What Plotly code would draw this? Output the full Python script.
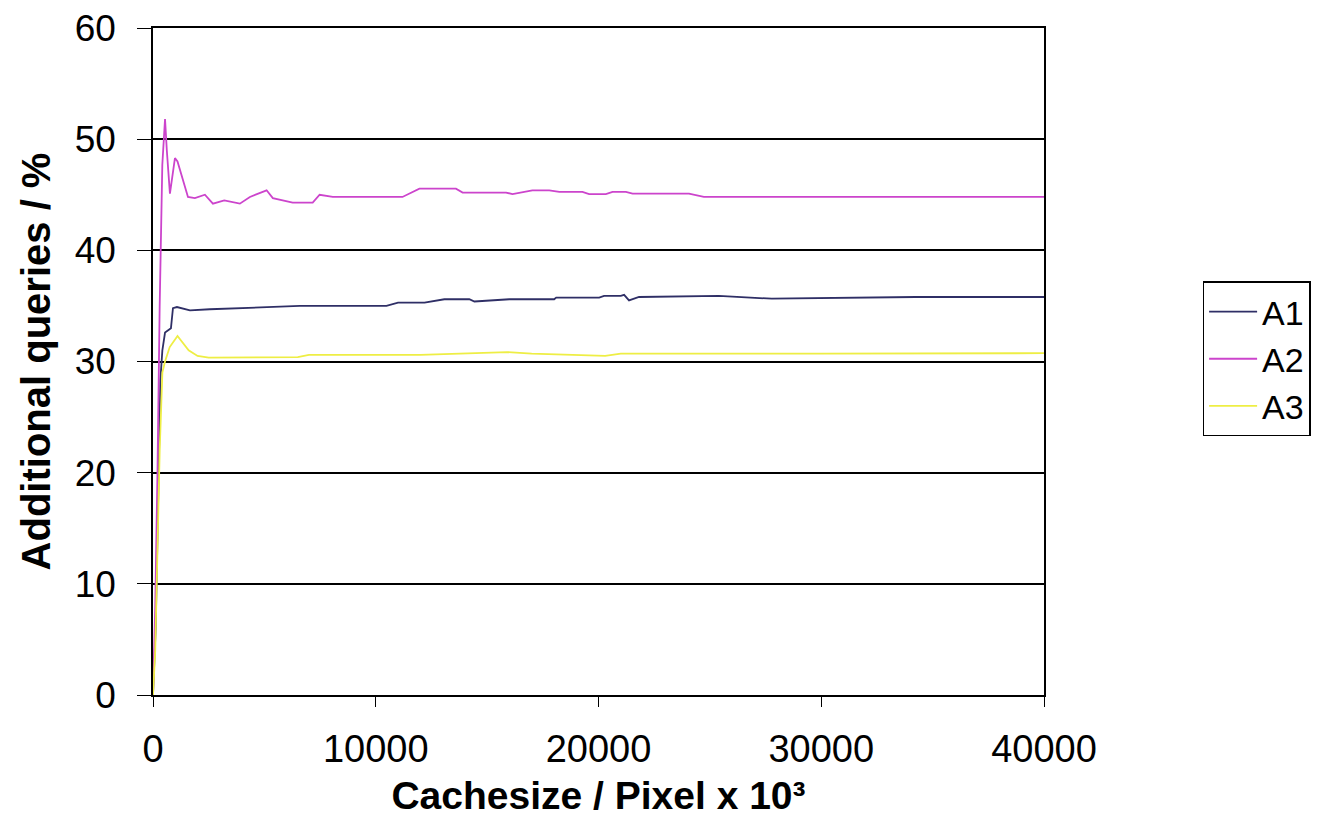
import plotly.graph_objects as go

# cache size (pixel x 10^3) and additional queries (%)
a1_x = [0, 120, 220, 330, 420, 540, 806, 896, 1075, 1660, 2550, 3900, 4800,
        6590, 10480, 11000, 12190, 13080, 14200, 14430, 16000, 18010, 18100,
        20030, 20250, 21000, 21150, 21370, 21820, 25400, 27780, 34230, 40000]
a1_y = [0, 6, 16.2, 28.3, 31.0, 32.6, 33.0, 34.8, 34.9, 34.6, 34.7, 34.8, 34.9,
        35.0, 35.0, 35.3, 35.3, 35.6, 35.6, 35.4, 35.6, 35.6, 35.75,
        35.75, 35.9, 35.9, 36.0, 35.5, 35.8, 35.9, 35.65, 35.8, 35.8]

a2_x = [0, 100, 200, 300, 418, 480, 540, 620, 760, 985, 1100, 1570, 1880,
        2330, 2690, 3200, 3900, 4350, 5100, 5380, 6270, 7170, 7480, 8070,
        11200, 11960, 13600, 13900, 15850, 16140, 17030, 17790, 18240, 19280,
        19580, 20330, 20630, 21230, 21530, 24060, 24730, 40000]
a2_y = [0, 8, 20, 35, 47.7, 50.5, 51.8, 49.0, 45.1, 48.3, 48.0, 44.8, 44.7,
        45.0, 44.2, 44.5, 44.2, 44.8, 45.4, 44.7, 44.3, 44.3, 45.0, 44.8,
        44.8, 45.55, 45.55, 45.2, 45.2, 45.05, 45.4, 45.4, 45.25, 45.25,
        45.05, 45.05, 45.25, 45.25, 45.1, 45.1, 44.8, 44.8]

a3_x = [0, 100, 200, 300, 420, 540, 750, 1100, 1600, 2000, 2500, 4000, 6500,
        7000, 12000, 15900, 17000, 20300, 21000, 30000, 40000]
a3_y = [0, 4, 13, 22, 29.0, 30.0, 31.3, 32.3, 31.0, 30.5, 30.35, 30.35, 30.4,
        30.6, 30.6, 30.85, 30.7, 30.5, 30.7, 30.7, 30.75]

series = [("A1", a1_x, a1_y, "#2f2f66"),
          ("A2", a2_x, a2_y, "#cc44cc"),
          ("A3", a3_x, a3_y, "#eeee44")]

fig = go.Figure()
for name, xs, ys, color in series:
    fig.add_trace(go.Scatter(x=xs, y=ys, mode="lines", name=name,
                             line=dict(color=color, width=1.8)))

font = "Liberation Sans, Arial, sans-serif"
# page body has an 8px margin, so the plot box is shifted back by 8px
fig.update_layout(
    width=1319, height=840,
    margin=dict(l=145, r=283, t=20, b=153, autoexpand=False),
    paper_bgcolor="white", plot_bgcolor="white",
    font=dict(family=font, size=37, color="black"),
    showlegend=True,
    legend=dict(x=1.178, y=0.62, xanchor="left", yanchor="top",
                bordercolor="black", borderwidth=1.5,
                font=dict(size=34), itemwidth=48, tracegroupgap=0),
)
fig.update_xaxes(range=[0, 40000], dtick=10000, tickformat="d",
                 showline=True, linecolor="black", linewidth=1.5, mirror=True,
                 ticks="outside", ticklen=10, tickcolor="black",
                 showgrid=False, zeroline=False, ticklabelstandoff=10,
                 automargin=False, tickfont=dict(size=38),
                 ticklabeloverflow="allow",
                 title=dict(text="<b>Cachesize / Pixel x 10³</b>", standoff=12,
                            font=dict(size=39)))
fig.update_yaxes(range=[0, 60], dtick=10,
                 showline=True, linecolor="black", linewidth=1.5, mirror=True,
                 ticks="outside", ticklen=14, tickcolor="black",
                 showgrid=True, gridcolor="black", gridwidth=1.5, zeroline=False,
                 ticklabelstandoff=14, automargin=False, tickfont=dict(size=37),
                 ticklabeloverflow="allow",
                 title=dict(text="<b>Additional queries / %</b>", standoff=12,
                            font=dict(size=40)))

fig.write_html("out.html")
